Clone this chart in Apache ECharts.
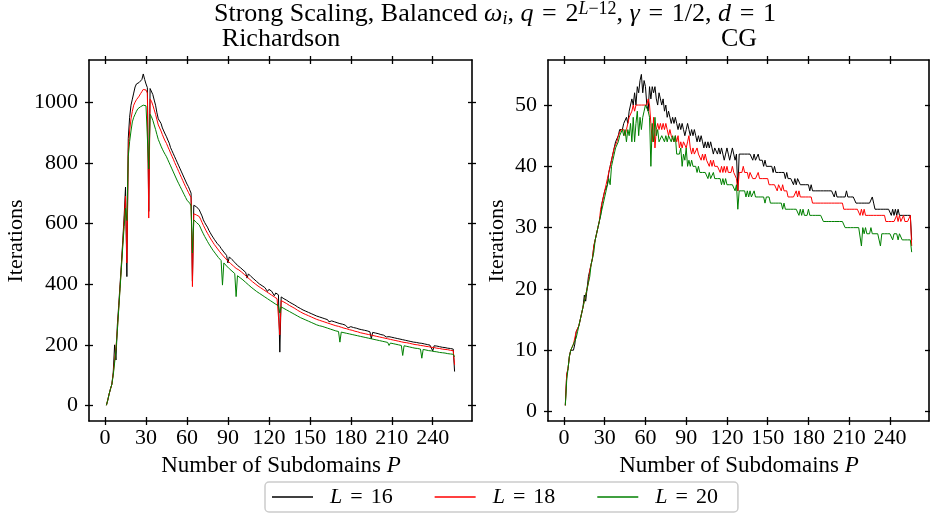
<!DOCTYPE html>
<html><head><meta charset="utf-8">
<script src="https://cdn.jsdelivr.net/npm/echarts@6/dist/echarts.min.js"></script>
<style>html,body{margin:0;padding:0;background:#fff}#c{width:930px;height:514px}</style>
</head><body><div id="c"></div>
<script>
const xTicks = [0, 30, 60, 90, 120, 150, 180, 210, 240];
const yTicksRich = [0, 200, 400, 600, 800, 1000];
const yTicksCG = [0, 10, 20, 30, 40, 50];
const seriesNames = ['L = 16', 'L = 18', 'L = 20'];
const colors = ['#000000', '#ff0000', '#008000'];

// Richardson iterations, P = 1..256
const richL16 = [
1, 18, 38, 55, 70, 110, 200, 150, 265, 330, 400, 470, 545, 625, 720, 425,
880, 950, 990, 1010, 1030, 1050, 1060, 1062, 1065, 1062, 1075, 1093, 1075, 1060, 1048, 640,
1045, 1040, 1025, 1007, 990, 965, 945, 940, 930, 915, 905, 895, 886, 875, 865, 850,
840, 830, 820, 810, 800, 790, 780, 770, 760, 750, 740, 730, 722, 711, 700, 410,
660, 658, 655, 650, 645, 635, 625, 612, 603, 595, 588, 578, 570, 562, 555, 548,
542, 535, 530, 525, 518, 512, 506, 500, 495, 470, 490, 486, 481, 476, 472, 468,
462, 458, 455, 451, 447, 443, 439, 420, 434, 429, 425, 421, 417, 413, 409, 405,
401, 398, 395, 392, 389, 386, 376, 383, 380, 377, 374, 362, 371, 368, 365, 176,
358, 355, 352, 350, 347, 344, 341, 339, 336, 333, 331, 328, 325, 323, 320, 318,
315, 313, 311, 309, 307, 305, 303, 301, 299, 297, 295, 294, 292, 290, 289, 288,
286, 285, 283, 276, 280, 279, 277, 276, 274, 273, 272, 270, 269, 268, 266, 265,
264, 256, 261, 260, 259, 257, 256, 255, 254, 252, 251, 250, 249, 248, 247, 246,
244, 243, 220, 241, 240, 239, 238, 237, 236, 234, 233, 232, 231, 226, 229, 227,
226, 225, 224, 223, 222, 221, 220, 219, 218, 217, 216, 215, 214, 213, 212, 211,
210, 209, 208, 208, 207, 206, 205, 205, 204, 203, 202, 201, 200, 199, 198, 180,
197, 196, 196, 195, 194, 193, 192, 192, 191, 190, 189, 189, 188, 187, 186, 112];
const richL18 = [
1, 18, 38, 55, 70, 105, 150, 190, 250, 320, 390, 460, 535, 610, 690, 470,
840, 905, 945, 970, 990, 1000, 1008, 1013, 1020, 1028, 1035, 1042, 1046, 1040, 1030, 618,
1010, 1003, 990, 975, 960, 942, 925, 915, 905, 893, 882, 872, 864, 853, 843, 832,
822, 812, 801, 791, 781, 771, 761, 751, 741, 731, 721, 712, 703, 694, 685, 392,
632, 630, 628, 626, 623, 614, 604, 594, 585, 576, 568, 560, 552, 545, 538, 531,
525, 519, 513, 507, 501, 496, 491, 486, 481, 476, 472, 468, 464, 460, 456, 452,
450, 447, 444, 440, 436, 432, 428, 424, 420, 416, 412, 408, 405, 401, 398, 394,
391, 388, 385, 382, 379, 376, 373, 370, 367, 364, 361, 358, 355, 352, 350, 233,
346, 343, 341, 339, 336, 333, 330, 328, 325, 322, 320, 317, 314, 312, 309, 307,
304, 302, 300, 298, 296, 294, 292, 290, 288, 286, 284, 283, 281, 279, 278, 277,
275, 274, 272, 271, 269, 268, 266, 265, 263, 262, 261, 259, 258, 257, 255, 254,
253, 251, 250, 249, 248, 246, 245, 244, 243, 241, 240, 239, 238, 237, 236, 235,
234, 233, 232, 231, 230, 229, 228, 227, 226, 225, 224, 223, 222, 221, 220, 219,
218, 217, 216, 215, 214, 213, 212, 211, 210, 209, 208, 208, 207, 206, 205, 204,
203, 202, 201, 201, 200, 199, 198, 198, 197, 196, 195, 194, 194, 193, 192, 191,
191, 190, 189, 189, 188, 187, 186, 186, 185, 184, 184, 183, 182, 181, 181, 134];
const richL20 = [
1, 18, 38, 55, 70, 100, 140, 185, 245, 315, 385, 455, 525, 590, 650, 610,
820, 870, 905, 935, 950, 960, 970, 978, 983, 985, 987, 990, 991, 988, 985, 780,
960, 952, 940, 925, 910, 893, 877, 866, 855, 845, 836, 828, 820, 810, 800, 790,
780, 770, 760, 750, 740, 731, 722, 713, 704, 695, 686, 677, 672, 667, 658, 503,
612, 608, 603, 599, 595, 585, 575, 566, 557, 549, 541, 533, 526, 519, 512, 506,
500, 494, 488, 483, 478, 397, 470, 465, 460, 455, 451, 447, 443, 439, 435, 359,
428, 424, 421, 418, 414, 410, 406, 402, 398, 394, 390, 387, 383, 380, 376, 373,
370, 367, 364, 361, 358, 355, 352, 349, 346, 343, 340, 337, 334, 331, 329, 305,
325, 322, 320, 317, 315, 312, 310, 307, 305, 302, 300, 297, 295, 293, 290, 288,
286, 284, 282, 280, 278, 276, 274, 272, 270, 268, 266, 265, 263, 262, 261, 260,
258, 257, 255, 254, 252, 251, 249, 248, 246, 245, 244, 209, 242, 241, 240, 239,
238, 237, 236, 235, 234, 233, 232, 231, 230, 229, 228, 227, 226, 225, 224, 223,
222, 221, 220, 219, 218, 217, 216, 215, 214, 213, 212, 211, 210, 209, 208, 198,
206, 205, 204, 203, 202, 201, 200, 199, 198, 165, 197, 196, 195, 194, 193, 192,
191, 190, 189, 189, 188, 187, 186, 156, 185, 184, 183, 182, 181, 181, 180, 179,
178, 178, 177, 176, 175, 175, 174, 173, 173, 172, 171, 171, 170, 170, 169, 161];

// CG iterations, P = 1..256
const cgL16 = [
1, 6, 7, 9, 10, 10, 10, 11, 13, 13, 14, 15, 16, 17, 19, 18,
20, 22, 23, 24, 25, 27, 28, 29, 30, 31, 32, 34, 35, 36, 36, 37,
39, 40, 41, 42, 43, 44, 44, 45, 46, 46, 46, 47, 47, 48, 47, 49,
49, 51, 50, 52, 50, 53, 52, 54, 55, 52, 54, 53, 50, 49, 53, 51,
53, 52, 53, 51, 50, 52, 51, 50, 51, 49, 50, 48, 49, 48, 47, 48,
47, 48, 47, 46, 47, 46, 47, 46, 45, 46, 47, 46, 45, 46, 45, 46,
45, 44, 45, 44, 45, 44, 43, 44, 43, 44, 43, 44, 43, 42, 43, 43,
42, 43, 42, 43, 42, 41, 42, 43, 42, 41, 42, 43, 42, 41, 42, 36,
42, 42, 42, 42, 42, 42, 42, 42, 42, 42, 41, 42, 41, 41, 42, 41,
41, 41, 40, 41, 40, 40, 40, 40, 40, 39, 40, 39, 39, 39, 39, 39,
39, 39, 38, 39, 38, 38, 38, 38, 37, 38, 37, 38, 38, 37, 37, 37,
37, 37, 37, 37, 36, 37, 36, 36, 36, 36, 36, 36, 36, 36, 36, 36,
36, 36, 36, 36, 36, 36, 35, 36, 35, 35, 35, 35, 35, 35, 35, 36,
35, 35, 35, 35, 35, 35, 34, 34, 34, 34, 34, 34, 34, 34, 34, 34,
34, 34, 35, 34, 33, 33, 33, 33, 33, 33, 33, 33, 33, 33, 33, 33,
32, 33, 32, 33, 32, 33, 32, 32, 32, 32, 32, 32, 32, 32, 32, 28];
const cgL18 = [
1, 6, 7, 9, 10, 10, 11, 11, 13, 13, 14, 15, 16, 17, 18, 19,
20, 21, 23, 24, 25, 27, 28, 29, 30, 31, 33, 34, 35, 35, 37, 38,
39, 40, 41, 42, 43, 43, 44, 45, 45, 46, 46, 46, 45, 46, 47, 48,
48, 49, 50, 49, 50, 50, 50, 50, 50, 50, 50, 50, 50, 51, 50, 47,
44, 48, 43, 46, 47, 46, 47, 46, 47, 46, 47, 46, 45, 46, 45, 45,
44, 45, 44, 45, 43, 44, 43, 44, 44, 43, 44, 45, 43, 42, 43, 42,
42, 43, 42, 42, 41, 42, 41, 42, 41, 41, 40, 41, 40, 41, 40, 40,
40, 40, 39, 40, 39, 40, 39, 40, 39, 39, 39, 40, 39, 39, 38, 36,
39, 39, 39, 40, 39, 39, 39, 38, 39, 39, 38, 38, 38, 38, 39, 38,
38, 38, 38, 38, 38, 38, 37, 37, 37, 37, 37, 37, 36, 37, 37, 36,
37, 36, 36, 36, 35, 35, 35, 35, 35, 35, 36, 35, 36, 35, 35, 35,
35, 35, 35, 35, 35, 35, 34, 34, 34, 34, 34, 34, 34, 34, 34, 34,
34, 34, 34, 34, 34, 34, 34, 34, 34, 34, 34, 34, 34, 33, 33, 33,
33, 33, 33, 33, 33, 33, 33, 33, 33, 32, 33, 32, 33, 32, 32, 32,
32, 32, 32, 32, 32, 32, 32, 32, 32, 32, 32, 32, 31, 31, 31, 31,
31, 31, 31, 31, 32, 31, 32, 31, 31, 32, 31, 31, 31, 31, 32, 27];
const cgL20 = [
1, 5, 7, 9, 10, 10, 11, 11, 12, 13, 14, 15, 16, 17, 18, 19,
19, 21, 22, 24, 25, 26, 28, 29, 30, 31, 32, 33, 34, 35, 36, 37,
38, 37, 40, 41, 42, 43, 43, 44, 45, 45, 46, 45, 46, 44, 46, 45,
47, 44, 48, 44, 47, 49, 45, 48, 46, 48, 49, 50, 50, 49, 48, 40,
47, 44, 48, 45, 46, 44, 44, 45, 45, 44, 45, 44, 45, 45, 44, 45,
44, 45, 42, 42, 42, 43, 40, 42, 41, 43, 40, 41, 40, 41, 40, 40,
40, 39, 40, 39, 39, 39, 39, 39, 39, 38, 39, 38, 38, 39, 38, 38,
38, 38, 38, 37, 38, 37, 38, 37, 37, 37, 37, 37, 37, 36, 37, 33,
36, 36, 36, 36, 36, 35, 36, 35, 36, 35, 35, 36, 35, 35, 35, 35,
35, 35, 35, 34, 35, 35, 35, 34, 34, 34, 34, 34, 34, 34, 34, 34,
33, 34, 33, 33, 33, 33, 33, 33, 33, 33, 33, 33, 32, 33, 32, 33,
32, 32, 32, 33, 32, 32, 32, 32, 32, 32, 32, 32, 32, 32, 31, 31,
31, 31, 31, 31, 31, 31, 31, 31, 31, 31, 31, 31, 31, 31, 30, 30,
30, 30, 30, 30, 30, 30, 30, 30, 30, 30, 27, 30, 29, 30, 29, 29,
29, 30, 29, 29, 29, 29, 29, 29, 27, 29, 29, 29, 29, 29, 29, 29,
29, 28, 29, 29, 29, 28, 29, 29, 28, 28, 28, 28, 28, 28, 28, 26];

const FONT = 'Liberation Serif';
const LBL = 22;   // tick labels
const AXT = 23;   // axis titles
const TF = 26;    // titles
const pairs = arr => arr.map((v, i) => [i + 1, v]);

const grids = [
  {left: 89, top: 60, width: 383, height: 361},
  {left: 548, top: 60, width: 381, height: 361}
];
const yRanges = [{min: -51, max: 1139, ticks: yTicksRich}, {min: -1.55, max: 57.35, ticks: yTicksCG}];

const tickStyle = {color: '#000', width: 1.3};
function xAx(gi, pos, inside, withLine, withLabel) {
  return {
    type: 'value', gridIndex: gi, position: pos, min: -11.75, max: 268.75,
    axisLine: {show: withLine, onZero: false, lineStyle: {color: '#000', width: 1.6}},
    axisTick: {show: true, inside: inside, length: 4, customValues: xTicks, lineStyle: tickStyle},
    axisLabel: {show: withLabel, customValues: xTicks, formatter: v => String(v),
      fontFamily: FONT, fontSize: LBL, color: '#000', margin: 6},
    splitLine: {show: false}
  };
}
function yAx(gi, pos, inside, withLine, withLabel) {
  const r = yRanges[gi];
  return {
    type: 'value', gridIndex: gi, position: pos, min: r.min, max: r.max,
    axisLine: {show: withLine, onZero: false, lineStyle: {color: '#000', width: 1.6}},
    axisTick: {show: true, inside: inside, length: 4, customValues: r.ticks, lineStyle: tickStyle},
    axisLabel: {show: withLabel, customValues: r.ticks, formatter: v => String(v),
      fontFamily: FONT, fontSize: LBL, color: '#000', margin: 11},
    splitLine: {show: false}
  };
}
const xAxis = [], yAxis = [];
for (let g = 0; g < 2; g++) {
  xAxis.push(xAx(g, 'bottom', false, true, true));
  xAxis.push(xAx(g, 'bottom', true, false, false));
  xAxis.push(xAx(g, 'top', false, true, false));
  xAxis.push(xAx(g, 'top', true, false, false));
  yAxis.push(yAx(g, 'left', false, true, true));
  yAxis.push(yAx(g, 'left', true, false, false));
  yAxis.push(yAx(g, 'right', false, true, false));
  yAxis.push(yAx(g, 'right', true, false, false));
}

const dataSets = [[richL16, richL18, richL20], [cgL16, cgL18, cgL20]];
const series = [];
for (let g = 0; g < 2; g++) {
  for (let k = 0; k < 3; k++) {
    series.push({
      type: 'line', name: seriesNames[k], xAxisIndex: g * 4, yAxisIndex: g * 4,
      data: pairs(dataSets[g][k]), showSymbol: false, symbol: 'none',
      lineStyle: {color: colors[k], width: 1}, itemStyle: {color: colors[k]},
      animation: false, silent: true
    });
  }
}

const italic = size => ({fontFamily: FONT, fontSize: size, fontStyle: 'italic', fill: '#000'});
const E = '\u2004';
const graphic = [
  {type: 'text', x: 495, y: 14, style: {
    text: 'Strong Scaling, Balanced {i|ω}{sub|i}, {i|q}' + E + '=' + E + '2{supi|L}{sup|−12}, {i|γ}' + E + '=' + E + '1/2, {i|d}' + E + '=' + E + '1',
    align: 'center', verticalAlign: 'middle', fontFamily: FONT, fontSize: TF, fill: '#000', lineHeight: 28,
    rich: {
      i: Object.assign(italic(TF), {lineHeight: 28}),
      sub: Object.assign(italic(18), {verticalAlign: 'bottom', lineHeight: 18}),
      supi: Object.assign(italic(18), {verticalAlign: 'top', lineHeight: 17}),
      sup: {fontFamily: FONT, fontSize: 18, fill: '#000', verticalAlign: 'top', lineHeight: 17}
    }}},
  {type: 'text', x: 281, y: 39, style: {text: 'Richardson', align: 'center', verticalAlign: 'middle', fontFamily: FONT, fontSize: TF, fill: '#000'}},
  {type: 'text', x: 739, y: 39, style: {text: 'CG', align: 'center', verticalAlign: 'middle', fontFamily: FONT, fontSize: TF, fill: '#000'}},
  {type: 'text', x: 16, y: 241, rotation: Math.PI / 2, style: {text: 'Iterations', align: 'center', verticalAlign: 'middle', fontFamily: FONT, fontSize: 22, fill: '#000'}},
  {type: 'text', x: 497, y: 241, rotation: Math.PI / 2, style: {text: 'Iterations', align: 'center', verticalAlign: 'middle', fontFamily: FONT, fontSize: 22, fill: '#000'}},
  {type: 'text', x: 281, y: 466, style: {text: 'Number of Subdomains {i|P}', align: 'center', verticalAlign: 'middle', fontFamily: FONT, fontSize: AXT, fill: '#000',
    rich: {i: italic(AXT)}}},
  {type: 'text', x: 739, y: 466, style: {text: 'Number of Subdomains {i|P}', align: 'center', verticalAlign: 'middle', fontFamily: FONT, fontSize: AXT, fill: '#000',
    rich: {i: italic(AXT)}}}
];

const chart = echarts.init(document.getElementById('c'), null, {renderer: 'canvas'});
chart.setOption({
  backgroundColor: '#ffffff',
  animation: false,
  grid: grids,
  xAxis: xAxis,
  yAxis: yAxis,
  series: series,
  graphic: graphic,
  legend: {
    data: seriesNames, left: 265, top: 482, orient: 'horizontal',
    icon: 'rect', itemWidth: 41, itemHeight: 1.5, itemGap: 42,
    padding: [4, 20, 4, 7], borderColor: '#cccccc', borderWidth: 1.5, borderRadius: 4,
    selectedMode: false,
    formatter: name => '{i|L}{eq|=}' + name.split('= ')[1],
    textStyle: {fontFamily: FONT, fontSize: 22, color: '#000', padding: [0, 0, 0, 12],
      rich: {
        i: {fontFamily: FONT, fontSize: 22, fontStyle: 'italic', color: '#000'},
        eq: {fontFamily: FONT, fontSize: 22, color: '#000', padding: [0, 8, 0, 8]}
      }}
  }
});
</script></body></html>
